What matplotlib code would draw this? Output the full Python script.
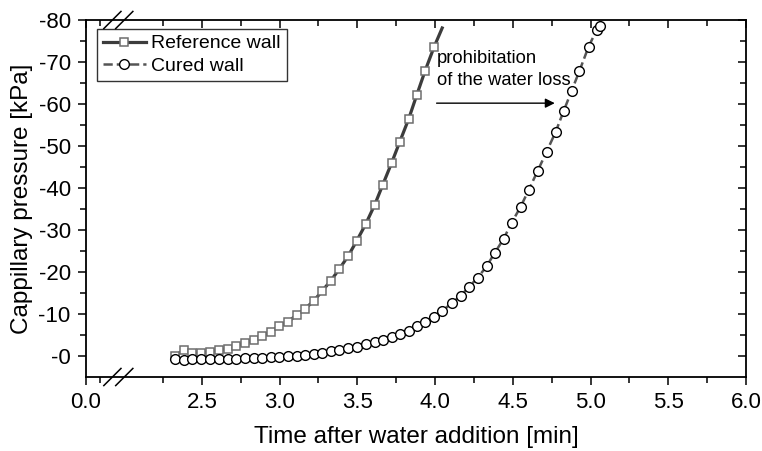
import matplotlib
matplotlib.use("Agg")
import matplotlib.pyplot as plt
from matplotlib.ticker import FixedLocator, FuncFormatter, FixedFormatter

plt.rcParams['font.family'] = ['Liberation Sans', 'DejaVu Sans']

# ---- data ----
ref_time = [2.326, 2.384, 2.436, 2.494, 2.551, 2.609, 2.667, 2.719, 2.776, 2.834,
            2.886, 2.943, 2.995, 3.053, 3.111, 3.162, 3.220, 3.274, 3.329, 3.384,
            3.441, 3.496, 3.554, 3.612, 3.663, 3.721, 3.773, 3.830, 3.882, 3.936,
            3.994, 4.046]
ref_pressure = [0.0, -1.4, -0.7, -0.7, -1.0, -1.4, -1.7, -2.4, -3.1, -3.8,
                -4.8, -5.7, -7.1, -8.1, -9.8, -11.2, -13.1, -15.5, -17.9, -20.7,
                -23.8, -27.4, -31.4, -36.0, -40.7, -46.0, -51.0, -56.4, -62.1, -67.9,
                -73.6, -78.1]

cured_time = [2.326, 2.384, 2.436, 2.494, 2.551, 2.609, 2.667, 2.719, 2.776, 2.834,
              2.886, 2.943, 2.995, 3.053, 3.111, 3.162, 3.220, 3.275, 3.329, 3.384,
              3.441, 3.496, 3.554, 3.612, 3.663, 3.721, 3.773, 3.830, 3.882, 3.936,
              3.994, 4.046, 4.107, 4.165, 4.216, 4.274, 4.332, 4.383, 4.441, 4.492,
              4.550, 4.602, 4.659, 4.717, 4.775, 4.827, 4.878, 4.929, 4.987, 5.039,
              5.064]
cured_pressure = [0.7, 1.0, 0.7, 0.7, 0.7, 0.7, 0.7, 0.7, 0.5, 0.5,
                  0.5, 0.2, 0.2, 0.0, 0.0, -0.2, -0.5, -0.7, -1.2, -1.4,
                  -1.9, -2.1, -2.9, -3.3, -3.8, -4.5, -5.2, -6.0, -7.1, -8.1,
                  -9.3, -10.7, -12.6, -14.3, -16.4, -18.6, -21.4, -24.5, -27.9, -31.7,
                  -35.5, -39.5, -44.0, -48.6, -53.3, -58.3, -63.1, -67.9, -73.6, -77.6,
                  -78.6]

x_major_pos = [1.755, 2.5, 3.0, 3.5, 4.0, 4.5, 5.0, 5.5, 6.0]
x_major_lab = ["0.0", "2.5", "3.0", "3.5", "4.0", "4.5", "5.0", "5.5", "6.0"]
x_minor_pos = [1.845, 2.25, 2.75, 3.25, 3.75, 4.25, 4.75, 5.25, 5.75]
y_major = [-80, -70, -60, -50, -40, -30, -20, -10, 0]
y_minor = [-75, -65, -55, -45, -35, -25, -15, -5]

fig = plt.figure(figsize=(7.62, 4.51), dpi=100)
ax = fig.add_axes([86/762, 1-377/451, (746-86)/762, (377-20)/451])

ax.plot(ref_time, ref_pressure, '-', color='#3c3c3c', lw=2.3,
        marker='s', ms=6.4, mfc='white', mec='#6e6e6e', mew=1.1,
        markevery=list(range(len(ref_time) - 1)), label='Reference wall', zorder=3)
ax.plot(cured_time, cured_pressure, '--', color='#555555', lw=1.8,
        marker='o', ms=7.0, mfc='white', mec='black', mew=1.0,
        label='Cured wall', zorder=4)

ax.set_xlim(1.755, 6.0)
ax.set_ylim(5, -80)

ax.xaxis.set_major_locator(FixedLocator(x_major_pos))
ax.xaxis.set_major_formatter(FixedFormatter(x_major_lab))
ax.xaxis.set_minor_locator(FixedLocator(x_minor_pos))
ax.yaxis.set_major_locator(FixedLocator(y_major))
ax.yaxis.set_major_formatter(FuncFormatter(lambda v, p: "-%d" % abs(round(v))))
ax.yaxis.set_minor_locator(FixedLocator(y_minor))

for s in ax.spines.values():
    s.set_linewidth(1.3)
ax.tick_params(which='both', direction='out', width=1.1, labelsize=16, pad=5)
ax.tick_params(which='major', length=6)
ax.tick_params(which='minor', length=4)
ax.tick_params(axis='x', which='both', top=True)
ax.tick_params(axis='y', which='both', right=True)

# inward mirror ticks on top and right
for t in ax.xaxis.get_major_ticks() + ax.xaxis.get_minor_ticks():
    t.tick2line.set_marker(3)  # TICKDOWN
for t in ax.yaxis.get_major_ticks() + ax.yaxis.get_minor_ticks():
    t.tick2line.set_marker(0)  # TICKLEFT

ax.set_xlabel("Time after water addition [min]", fontsize=17.5, labelpad=9)
ax.set_ylabel("Cappillary pressure [kPa]", fontsize=17.5, labelpad=4)

leg = ax.legend(loc='upper left', bbox_to_anchor=(0.0167, 0.975), borderaxespad=0,
                fontsize=14, frameon=True, fancybox=False, handlelength=2.2,
                handletextpad=0.3, borderpad=0.3, labelspacing=0.25)
leg.get_frame().set_edgecolor('black')
leg.get_frame().set_linewidth(1.0)

ax.annotate("prohibitation\nof the water loss", xy=(4.012, -68.3), xycoords='data',
            fontsize=13.2, va='center', ha='left', linespacing=1.4)
ax.annotate("", xy=(4.77, -60.2), xytext=(4.01, -60.2),
            arrowprops=dict(arrowstyle='-|>', color='black', lw=1.0,
                            mutation_scale=14, shrinkA=0, shrinkB=0))

# axis break marks
dx, dy = 0.013, 0.024
for cx in (0.040, 0.058):
    for cy in (0.0, 1.0):
        ax.plot([cx - dx, cx + dx], [cy - dy, cy + dy], color='black', lw=1.1,
                transform=ax.transAxes, clip_on=False, zorder=6)

fig.savefig("out.png", dpi=100)
